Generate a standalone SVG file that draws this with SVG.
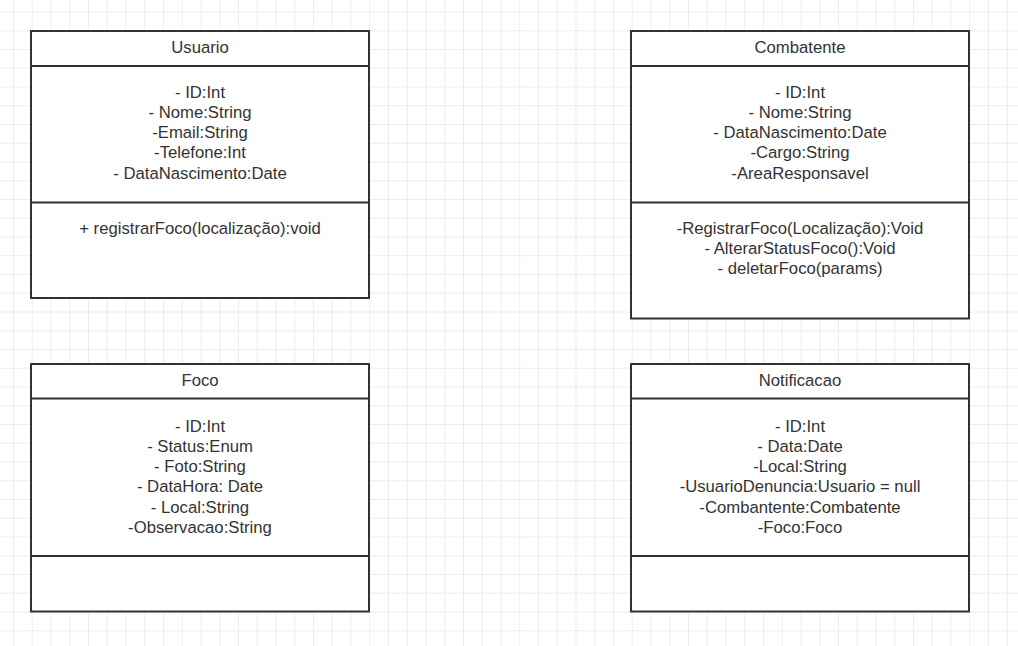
<svg xmlns="http://www.w3.org/2000/svg" width="1018" height="646" viewBox="0 0 1018 646">
  <defs>
    <pattern id="grid" x="13" y="11.5" width="18.75" height="18.75" patternUnits="userSpaceOnUse">
      <path d="M0 0H18.75M0 0V18.75" fill="none" stroke="#e6e6e6" stroke-width="1.5"/>
    </pattern>
  </defs>
  <style>
    .box { fill: #ffffff; stroke: #333333; stroke-width: 2; }
    .div { stroke: #333333; stroke-width: 2; fill: none; }
    text { font-family: "Liberation Sans", Arial, sans-serif; font-size: 16.7px; fill: #333333; text-anchor: middle; }
  </style>
  <rect x="0" y="0" width="1018" height="646" fill="#ffffff"/>
  <rect x="0" y="0" width="1018" height="646" fill="url(#grid)"/>

  <g id="Usuario">
    <rect class="box" x="31" y="31" width="338" height="267"/>
    <line class="div" x1="31" y1="66" x2="369" y2="66"/>
    <line class="div" x1="31" y1="202.5" x2="369" y2="202.5"/>
    <text x="200" y="52.5">Usuario</text>
    <text x="200" y="97.5">- ID:Int</text>
    <text x="200" y="117.8">- Nome:String</text>
    <text x="200" y="138.1">-Email:String</text>
    <text x="200" y="158.4">-Telefone:Int</text>
    <text x="200" y="178.7">- DataNascimento:Date</text>
    <text x="200" y="234">+ registrarFoco(localização):void</text>
  </g>

  <g id="Combatente">
    <rect class="box" x="631" y="31" width="338" height="287.5"/>
    <line class="div" x1="631" y1="66" x2="969" y2="66"/>
    <line class="div" x1="631" y1="202.5" x2="969" y2="202.5"/>
    <text x="800" y="52.5">Combatente</text>
    <text x="800" y="97.5">- ID:Int</text>
    <text x="800" y="117.8">- Nome:String</text>
    <text x="800" y="138.1">- DataNascimento:Date</text>
    <text x="800" y="158.4">-Cargo:String</text>
    <text x="800" y="178.7">-AreaResponsavel</text>
    <text x="800" y="233.5">-RegistrarFoco(Localização):Void</text>
    <text x="800" y="253.8">- AlterarStatusFoco():Void</text>
    <text x="800" y="274.1">- deletarFoco(params)</text>
  </g>

  <g id="Foco">
    <rect class="box" x="31" y="364" width="338" height="247.5"/>
    <line class="div" x1="31" y1="398.5" x2="369" y2="398.5"/>
    <line class="div" x1="31" y1="556" x2="369" y2="556"/>
    <text x="200" y="386">Foco</text>
    <text x="200" y="431.7">- ID:Int</text>
    <text x="200" y="451.9">- Status:Enum</text>
    <text x="200" y="472.1">- Foto:String</text>
    <text x="200" y="492.3">- DataHora: Date</text>
    <text x="200" y="512.5">- Local:String</text>
    <text x="200" y="532.7">-Observacao:String</text>
  </g>

  <g id="Notificacao">
    <rect class="box" x="631" y="364" width="338" height="247.5"/>
    <line class="div" x1="631" y1="398.5" x2="969" y2="398.5"/>
    <line class="div" x1="631" y1="556" x2="969" y2="556"/>
    <text x="800" y="386">Notificacao</text>
    <text x="800" y="431.7">- ID:Int</text>
    <text x="800" y="451.9">- Data:Date</text>
    <text x="800" y="472.1">-Local:String</text>
    <text x="800" y="492.3">-UsuarioDenuncia:Usuario = null</text>
    <text x="800" y="512.5">-Combantente:Combatente</text>
    <text x="800" y="532.7">-Foco:Foco</text>
  </g>

  <g id="connectors"></g>
</svg>
